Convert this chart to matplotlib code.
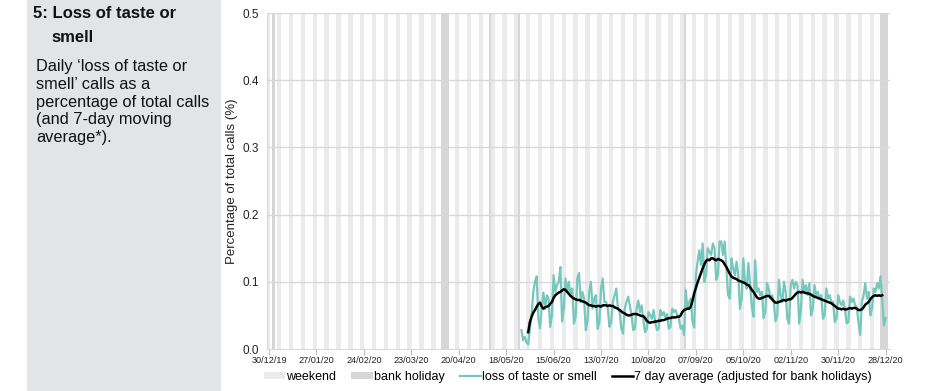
import pandas as pd
import matplotlib.pyplot as plt
import matplotlib.dates as mdates
from matplotlib.patches import Patch, Rectangle
from matplotlib.lines import Line2D

plt.rcParams['font.family'] = ['Liberation Sans', 'DejaVu Sans']

# daily 'loss of taste or smell' calls, % of total calls (from 27/05/20)
daily_start = '2020-05-27'
daily_pct = [
    0.028, 0.013, 0.018, 0.010, 0.007,
    0.030, 0.051, 0.085, 0.100, 0.108, 0.045, 0.031,
    0.062, 0.084, 0.060, 0.080, 0.075, 0.033, 0.050,
    0.110, 0.085, 0.095, 0.100, 0.122, 0.041, 0.060,
    0.105, 0.085, 0.100, 0.080, 0.090, 0.038, 0.048,
    0.105, 0.113, 0.070, 0.085, 0.075, 0.028, 0.042,
    0.085, 0.100, 0.060, 0.075, 0.080, 0.030, 0.040,
    0.090, 0.105, 0.070, 0.070, 0.060, 0.033, 0.040,
    0.070, 0.080, 0.090, 0.060, 0.055, 0.030, 0.023,
    0.060, 0.070, 0.078, 0.065, 0.050, 0.028, 0.030,
    0.060, 0.072, 0.055, 0.065, 0.043, 0.025, 0.030,
    0.055, 0.050, 0.045, 0.058, 0.040, 0.028, 0.030,
    0.058, 0.050, 0.055, 0.047, 0.052, 0.030, 0.033,
    0.060, 0.055, 0.058, 0.050, 0.045, 0.030, 0.035,
    0.021, 0.088, 0.060, 0.070, 0.075, 0.040, 0.032,
    0.110, 0.130, 0.147, 0.125, 0.157, 0.100, 0.110,
    0.150, 0.145, 0.140, 0.157, 0.150, 0.103, 0.110,
    0.160, 0.160, 0.140, 0.160, 0.120, 0.080, 0.075,
    0.135, 0.120, 0.110, 0.130, 0.110, 0.060, 0.075,
    0.135, 0.100, 0.090, 0.128, 0.095, 0.063, 0.048,
    0.132, 0.085, 0.090, 0.080, 0.085, 0.046, 0.055,
    0.098, 0.090, 0.075, 0.080, 0.070, 0.041, 0.050,
    0.103, 0.080, 0.070, 0.100, 0.085, 0.045, 0.038,
    0.095, 0.103, 0.090, 0.100, 0.095, 0.038, 0.060,
    0.103, 0.085, 0.095, 0.080, 0.098, 0.050, 0.060,
    0.095, 0.080, 0.085, 0.075, 0.080, 0.045, 0.050,
    0.090, 0.075, 0.080, 0.070, 0.070, 0.040, 0.045,
    0.080, 0.070, 0.065, 0.072, 0.060, 0.038, 0.040,
    0.078, 0.070, 0.075, 0.065, 0.062, 0.040, 0.021,
    0.070, 0.080, 0.098, 0.075, 0.085, 0.050, 0.060,
    0.090, 0.085, 0.098, 0.090, 0.108, 0.075, 0.035,
    0.046,
]

# 7 day average (adjusted for bank holidays), from 31/05/20
avg_start = '2020-05-31'
avg_pct = [
    0.025,
    0.040, 0.048, 0.054, 0.058, 0.063, 0.067, 0.069,
    0.063, 0.060, 0.062, 0.063, 0.064, 0.067, 0.070,
    0.076, 0.080, 0.082, 0.084, 0.085, 0.087, 0.089,
    0.088, 0.085, 0.082, 0.079, 0.077, 0.075, 0.074,
    0.073, 0.073, 0.072, 0.071, 0.070, 0.069, 0.067,
    0.065, 0.065, 0.064, 0.064, 0.063, 0.064, 0.064,
    0.063, 0.065, 0.065, 0.065, 0.064, 0.065, 0.064,
    0.064, 0.062, 0.061, 0.060, 0.058, 0.056, 0.054,
    0.053, 0.051, 0.050, 0.050, 0.051, 0.052, 0.052,
    0.052, 0.051, 0.050, 0.049, 0.049, 0.046, 0.042,
    0.040, 0.039, 0.040, 0.040, 0.041, 0.041, 0.042,
    0.042, 0.043, 0.043, 0.044, 0.045, 0.046, 0.046,
    0.047, 0.047, 0.047, 0.048, 0.048, 0.050, 0.055,
    0.058, 0.059, 0.060, 0.060, 0.063, 0.072, 0.083,
    0.091, 0.099, 0.106, 0.113, 0.120, 0.126, 0.131,
    0.133, 0.132, 0.135, 0.135, 0.133, 0.132, 0.134,
    0.133, 0.132, 0.130, 0.126, 0.122, 0.117, 0.112,
    0.108, 0.106, 0.105, 0.104, 0.102, 0.101, 0.100,
    0.099, 0.098, 0.096, 0.095, 0.092, 0.088, 0.085,
    0.081, 0.077, 0.075, 0.075, 0.076, 0.077, 0.078,
    0.079, 0.079, 0.077, 0.074, 0.071, 0.069, 0.069,
    0.070, 0.071, 0.072, 0.073, 0.072, 0.073, 0.074,
    0.074, 0.076, 0.079, 0.082, 0.084, 0.085, 0.084,
    0.085, 0.084, 0.083, 0.083, 0.082, 0.081, 0.079,
    0.078, 0.077, 0.076, 0.075, 0.074, 0.073, 0.072,
    0.071, 0.070, 0.069, 0.068, 0.066, 0.064, 0.062,
    0.060, 0.060, 0.059, 0.060, 0.059, 0.059, 0.060,
    0.061, 0.060, 0.061, 0.061, 0.060, 0.058, 0.058,
    0.059, 0.062, 0.066, 0.068, 0.070, 0.074, 0.077,
    0.079, 0.080, 0.079, 0.080, 0.079, 0.080,
]

bank_holidays = [('2020-01-01', '2020-01-01'), ('2020-04-10', '2020-04-13'),
                 ('2020-05-08', '2020-05-08'), ('2020-05-25', '2020-05-25'),
                 ('2020-08-31', '2020-08-31'), ('2020-12-25', '2020-12-28')]

tick_dates = pd.date_range('2019-12-30', '2020-12-28', freq='28D')

daily_x = pd.date_range(daily_start, periods=len(daily_pct), freq='D')
avg_x = pd.date_range(avg_start, periods=len(avg_pct), freq='D')

fig = plt.figure(figsize=(9.36, 3.91), dpi=100)

# grey description panel on the left
fig.add_artist(Rectangle((27 / 936, 0), 194 / 936, 1, transform=fig.transFigure,
                         facecolor='#e3e4e6', edgecolor='none', zorder=0))
fig.text(33 / 936, 1 - 14 / 391, '5: Loss of taste or', fontsize=12,
         fontweight='bold', va='center', color='#111111')
fig.text(51 / 936, 1 - 37 / 391, 'smell', fontsize=12,
         fontweight='bold', va='center', color='#111111')
fig.text(36 / 936, 1 - 59 / 391,
         'Daily \u2018loss of taste or\nsmell\u2019 calls as a\npercentage of total calls\n'
         '(and 7-day moving\naverage*).',
         fontsize=11.8, va='top', linespacing=1.23, color='#111111')

ax = fig.add_axes([267 / 936, 1 - 349 / 391, 623 / 936, 336 / 391])

# weekend and bank holiday bands
weekend_col = '#ebebeb'
bh_col = '#d6d6d6'
for sat in pd.date_range('2019-12-28', '2020-12-31', freq='W-SAT'):
    a = mdates.date2num(sat) - 0.3
    ax.axvspan(a, a + 2.6, color=weekend_col, lw=0, zorder=0)
for s, e in bank_holidays:
    a = mdates.date2num(pd.Timestamp(s)) - 0.3
    b = mdates.date2num(pd.Timestamp(e)) + 1.3
    ax.axvspan(a, b, color=bh_col, lw=0, zorder=0)

for yv in [0.1, 0.2, 0.3, 0.4, 0.5]:
    ax.axhline(yv, color='#d9d9d9', lw=1, zorder=1)

ax.plot(daily_x, daily_pct, color='#76c8bd', lw=1.6, zorder=3)
ax.plot(avg_x, avg_pct, color='black', lw=1.8, zorder=4)

ax.set_xlim(mdates.date2num(pd.Timestamp('2019-12-30')) - 1.2,
            mdates.date2num(pd.Timestamp('2019-12-30')) + 366.6)
ax.set_ylim(0, 0.5)
ax.set_yticks([0.0, 0.1, 0.2, 0.3, 0.4, 0.5])
ax.set_yticklabels(['0.0', '0.1', '0.2', '0.3', '0.4', '0.5'])
ax.set_xticks(mdates.date2num(tick_dates))
ax.set_xticklabels([d.strftime('%d/%m/%y') for d in tick_dates])
ax.tick_params(axis='y', length=0, labelsize=8.5, pad=6, labelcolor='#222222')
ax.tick_params(axis='x', length=4, color='#bfbfbf', labelsize=6.6, pad=1,
               labelcolor='#222222')
for side in ['top', 'right']:
    ax.spines[side].set_visible(False)
ax.spines['left'].set_color('#d9d9d9')
ax.spines['bottom'].set_color('#d9d9d9')
ax.set_facecolor('none')

ax.set_ylabel('Percentage of total calls (%)', fontsize=9.5, color='#222222')
ax.yaxis.set_label_coords(-0.046, 0.5)

handles = [Patch(facecolor=weekend_col, edgecolor='none'),
           Patch(facecolor=bh_col, edgecolor='none'),
           Line2D([], [], color='#76c8bd', lw=1.6),
           Line2D([], [], color='black', lw=1.8)]
labels = ['weekend', 'bank holiday', 'loss of taste or smell',
          '7 day average (adjusted for bank holidays)']
fig.legend(handles, labels, loc='center', bbox_to_anchor=(568 / 936, 1 - 377 / 391),
           ncol=4, frameon=False, fontsize=9, handlelength=1.7, handleheight=0.5,
           handletextpad=0.1, columnspacing=1.2, borderpad=0)

fig.savefig('out.png', dpi=100)
